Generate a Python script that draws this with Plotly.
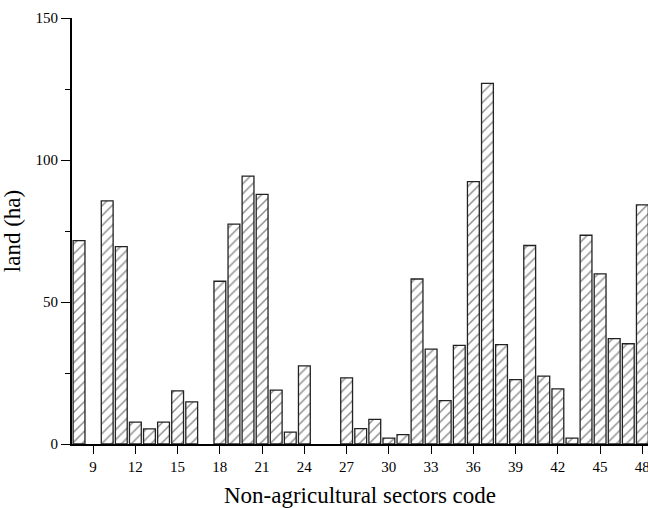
import plotly.graph_objects as go

# Land use (ha) by non-agricultural sector code
sector_codes = [8, 10, 11, 12, 13, 14, 15, 16, 18, 19, 20, 21, 22, 23, 24,
                27, 28, 29, 30, 31, 32, 33, 34, 35, 36, 37, 38, 39, 40,
                41, 42, 43, 44, 45, 46, 47, 48]
land_ha = [71.6, 85.6, 69.5, 7.7, 5.3, 7.7, 18.7, 14.8, 57.3, 77.4, 94.3, 87.9,
           19.0, 4.2, 27.5, 23.3, 5.4, 8.7, 2.1, 3.3, 58.1, 33.4, 15.3, 34.7,
           92.4, 127.0, 35.0, 22.7, 69.9, 23.9, 19.4, 2.1, 73.5, 59.9, 37.1,
           35.3, 84.2]

serif = "Liberation Serif, Times New Roman, serif"

fig = go.Figure(
    go.Bar(
        x=sector_codes,
        y=land_ha,
        width=0.84,
        marker=dict(
            color="white",
            line=dict(color="#222", width=1.3),
            pattern=dict(shape="/", size=7, solidity=0.22,
                         fgcolor="#222", bgcolor="white"),
        ),
        showlegend=False,
    )
)

fig.update_layout(
    width=648, height=508,
    margin=dict(l=72, r=0, t=18, b=64),
    paper_bgcolor="white", plot_bgcolor="white",
    font=dict(family=serif, color="black", size=15),
)

fig.update_xaxes(
    range=[7.5, 48.4],
    tick0=9, dtick=3,
    automargin=False,
    showline=True, linecolor="black", linewidth=1.5,
    ticks="outside", ticklen=8, tickwidth=1.2, tickcolor="black",
    ticklabeloverflow="allow",
    showgrid=False, zeroline=False,
    tickfont=dict(family=serif, size=15),
    title=dict(text="Non-agricultural sectors code",
               font=dict(family=serif, size=23), standoff=22),
)

fig.update_yaxes(
    range=[0, 150],
    tickvals=[0, 50, 100, 150],
    automargin=False,
    showline=True, linecolor="black", linewidth=1.8,
    ticks="outside", ticklen=9, tickwidth=1.2, tickcolor="black",
    minor=dict(tickvals=[25, 75, 125], ticks="outside", ticklen=5,
               tickwidth=1.2, tickcolor="black"),
    showgrid=False, zeroline=False,
    tickfont=dict(family=serif, size=15),
    title=dict(text="land (ha)", font=dict(family=serif, size=23), standoff=14),
)

fig.write_html("out.html")
